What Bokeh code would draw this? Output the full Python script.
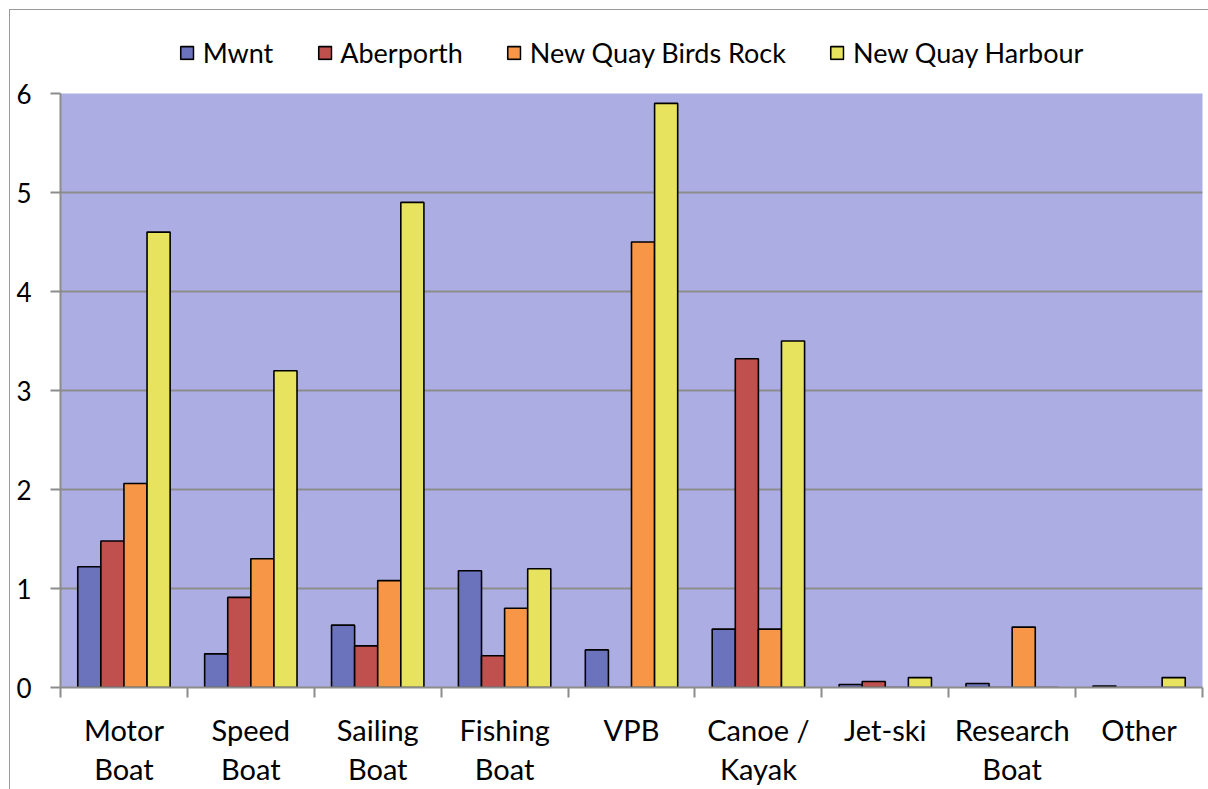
from bokeh.plotting import figure
from bokeh.layouts import column
from bokeh.models import (Range1d, LinearAxis, FixedTicker,
                          Legend, LegendItem, ColumnDataSource)
from bokeh.transform import dodge
from bokeh.embed import file_html
from bokeh.resources import INLINE

categories = ["Motor\nBoat", "Speed\nBoat", "Sailing\nBoat", "Fishing\nBoat", "VPB",
              "Canoe /\nKayak", "Jet-ski", "Research\nBoat", "Other"]
series_names = ["Mwnt", "Aberporth", "New Quay Birds Rock", "New Quay Harbour"]
mwnt = [1.22, 0.34, 0.63, 1.18, 0.38, 0.59, 0.03, 0.04, 0.015]
aberporth = [1.48, 0.91, 0.42, 0.32, 0.0, 3.32, 0.06, 0.0, 0.0]
nq_birds_rock = [2.06, 1.30, 1.08, 0.80, 4.50, 0.59, 0.0, 0.61, 0.0]
nq_harbour = [4.60, 3.20, 4.90, 1.20, 5.90, 3.50, 0.10, 0.0, 0.10]
y_ticks = [0, 1, 2, 3, 4, 5, 6]

colors = ["#6c73bd", "#c0504d", "#f79646", "#e8e35f"]
FONT = "Lato"

n = len(categories)
centers = [i + 0.5 for i in range(n)]
bounds = list(range(n + 1))
src = ColumnDataSource(dict(xc=centers, s0=mwnt, s1=aberporth, s2=nq_birds_rock, s3=nq_harbour))

# ---- legend strip on top ----
pl = figure(width=1198, height=67, x_range=Range1d(0, 1), y_range=Range1d(0, 1),
            output_backend="svg", toolbar_location=None,
            x_axis_location=None, y_axis_location=None,
            min_border_left=0, min_border_right=6, min_border_top=17, min_border_bottom=0)
pl.outline_line_color = None
pl.background_fill_color = "white"
pl.border_fill_color = "white"
pl.grid.visible = False
# degenerate (zero-size) boxes: they only provide the legend swatch styles
leg_src = ColumnDataSource(dict(x=[0], top=[0], bottom=[0]))
leg_renderers = []
for i, col in enumerate(colors):
    r = pl.vbar(x="x", top="top", bottom="bottom", width=0, source=leg_src,
                fill_color=col, line_color="black", line_width=1.6)
    leg_renderers.append(r)
legend = Legend(items=[LegendItem(label=nm, renderers=[r]) for nm, r in zip(series_names, leg_renderers)],
                orientation="horizontal", location="center")
legend.label_text_font = FONT
legend.label_text_font_size = "27px"
legend.label_text_color = "black"
legend.glyph_width = 16
legend.glyph_height = 16
legend.label_standoff = 8
legend.spacing = 43
legend.padding = 0
legend.margin = 0
legend.background_fill_alpha = 0
legend.border_line_color = None
pl.add_layout(legend, "center")

# ---- main chart ----
p = figure(width=1198, height=712, x_range=Range1d(0, n),
           y_range=Range1d(0, 6), output_backend="svg", toolbar_location=None,
           x_axis_location=None, y_axis_location=None,
           min_border_left=50, min_border_right=0, min_border_top=16, min_border_bottom=98)
p.background_fill_color = "#acaee3"
p.border_fill_color = "white"
p.outline_line_color = None

bw = 0.182
offsets = [-1.5 * bw, -0.5 * bw, 0.5 * bw, 1.5 * bw]
for i, (name, col) in enumerate(zip(series_names, colors)):
    p.vbar(x=dodge("xc", offsets[i]), top="s%d" % i, width=bw,
           source=src, fill_color=col, line_color="black", line_width=1.6)

yax = LinearAxis(ticker=FixedTicker(ticks=y_ticks))
yax.axis_line_color = "#8c8c8c"
yax.axis_line_width = 2
yax.major_tick_line_color = "#8c8c8c"
yax.major_tick_line_width = 2
yax.major_tick_out = 10
yax.major_tick_in = 0
yax.minor_tick_line_color = None
yax.major_label_text_font = FONT
yax.major_label_text_font_size = "26px"
yax.major_label_text_color = "black"
yax.major_label_standoff = 19
p.add_layout(yax, "left")

xax = LinearAxis(ticker=FixedTicker(ticks=centers, minor_ticks=bounds),
                 major_label_overrides={c: lab for c, lab in zip(centers, categories)})
xax.axis_line_color = "#8c8c8c"
xax.axis_line_width = 2
xax.major_tick_line_color = None
xax.major_tick_out = 0
xax.major_tick_in = 0
xax.minor_tick_line_color = "#8c8c8c"
xax.minor_tick_line_width = 2
xax.minor_tick_out = 10
xax.minor_tick_in = 0
xax.major_label_text_font = FONT
xax.major_label_text_font_size = "29px"
xax.major_label_text_color = "black"
xax.major_label_text_line_height = 1.13
xax.major_label_standoff = 14
p.add_layout(xax, "below")

p.ygrid.ticker = FixedTicker(ticks=y_ticks)
p.ygrid.grid_line_color = "#8c8c8c"
p.ygrid.grid_line_width = 2
p.xgrid.grid_line_color = None

layout = column(pl, p, spacing=0)
layout.margin = (10, 0, 0, 10)
layout.styles = {"outline": "1.5px solid #9a9a9a"}

open("out.html", "w").write(file_html(layout, INLINE))
